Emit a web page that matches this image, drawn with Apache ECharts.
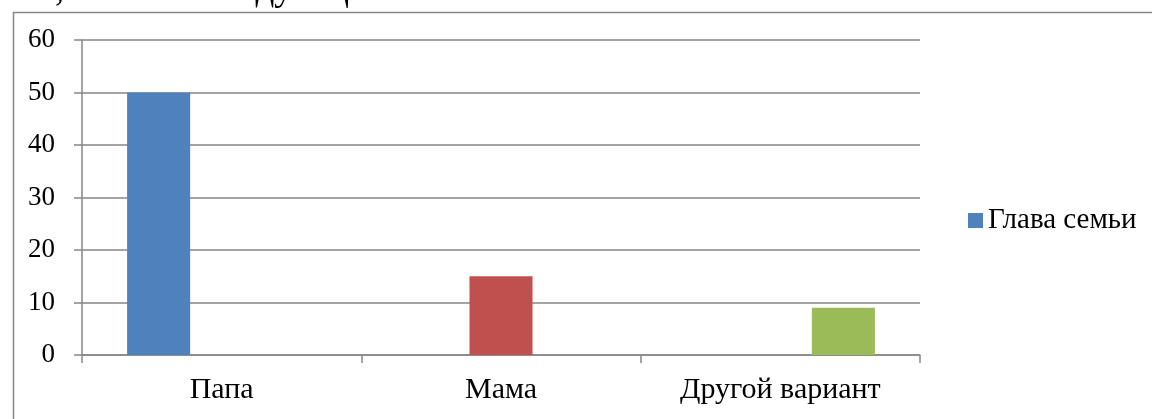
<!DOCTYPE html>
<html lang="ru">
<head>
  <meta charset="UTF-8">
  <title>Глава семьи</title>
  <script src="https://cdn.jsdelivr.net/npm/echarts@6/dist/echarts.min.js"></script>
  <style>
    html, body { margin: 0; padding: 0; background: #fff; }
    #chart { width: 1152px; height: 419px; }
  </style>
</head>
<body>
<div id="chart"></div>
<script>
  // данные диаграммы
  var categories = ['Папа', 'Мама', 'Другой вариант'];
  var papaValues = [50, '-', '-'];
  var mamaValues = ['-', 15, '-'];
  var otherValues = ['-', '-', 9];
  var legendName = 'Глава семьи';
  var yTicks = [0, 10, 20, 30, 40, 50, 60];

  var font = '"Liberation Serif", "Times New Roman", serif';
  var gray = '#868686';

  var chart = echarts.init(document.getElementById('chart'));
  chart.setOption({
    animation: false,
    backgroundColor: '#fff',
    textStyle: { fontFamily: font },
    graphic: [
      // рамка диаграммы
      { type: 'rect', left: 11, top: 10, z: -1,
        shape: { width: 1300, height: 600 },
        style: { fill: 'none', stroke: gray, lineWidth: 1.5 } },
      // обрезанная строка текста над диаграммой
      { type: 'text', x: 392, y: 9,
        style: { text: 'группы, показал следующее:', font: '37px ' + font,
                 fill: '#000', align: 'right', verticalAlign: 'bottom' } }
    ],
    grid: { left: 82, right: 232, top: 40, bottom: 64 },
    legend: {
      data: [legendName],
      left: 963, top: 201,
      icon: 'rect', itemWidth: 15, itemHeight: 15, itemGap: 6,
      textStyle: { fontFamily: font, fontSize: 29, color: '#000' }
    },
    xAxis: {
      type: 'category',
      data: categories,
      axisLine: { lineStyle: { color: gray, width: 1.5 } },
      axisTick: { show: true, length: 8, lineStyle: { color: gray, width: 1.5 } },
      axisLabel: { fontFamily: font, fontSize: 30, color: '#000', margin: 20 }
    },
    yAxis: {
      type: 'value',
      min: yTicks[0], max: yTicks[yTicks.length - 1], interval: 10,
      axisLine: { show: true, lineStyle: { color: gray, width: 1.5 } },
      axisTick: { show: true, length: 8, lineStyle: { color: gray, width: 1.5 } },
      axisLabel: { fontFamily: font, fontSize: 27, color: '#000', margin: 27 },
      splitLine: { lineStyle: { color: gray, width: 1.5 } }
    },
    series: [
      { name: legendName, type: 'bar', data: papaValues, barGap: '0%', barCategoryGap: '32.3%',
        itemStyle: { color: '#4F81BD' } },
      { name: 'Мама', type: 'bar', data: mamaValues, barGap: '0%', barCategoryGap: '32.3%',
        itemStyle: { color: '#C0504D' } },
      { name: 'Другой', type: 'bar', data: otherValues, barGap: '0%', barCategoryGap: '32.3%',
        itemStyle: { color: '#9BBB59' } }
    ]
  });
</script>
</body>
</html>
